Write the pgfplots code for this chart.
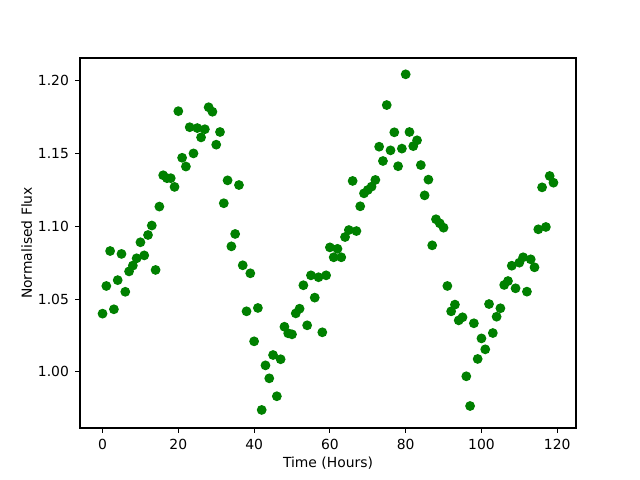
\documentclass[border=0pt]{standalone}
\usepackage{fontspec}
\setmainfont{DejaVu Sans}
\usepackage{pgfplots}
\pgfplotsset{compat=1.18}
\definecolor{mplgreen}{RGB}{0,128,0}
\begin{document}
\begin{tikzpicture}
\path[use as bounding box] (-57.6pt,-37.44pt) rectangle (403.2pt,308.16pt);
\begin{axis}[
  at={(0pt,0pt)}, anchor=south west,
  scale only axis, width=357.12pt, height=266.4pt,
  xmin=-5.95, xmax=124.95, ymin=0.9615, ymax=1.2155,
  xtick={0,20,40,60,80,100,120},
  ytick={1.00,1.05,1.10,1.15,1.20},
  /pgf/number format/assume math mode=true,
  yticklabel style={/pgf/number format/fixed, /pgf/number format/fixed zerofill, /pgf/number format/precision=2, xshift=-1pt},
  xticklabel style={yshift=-1pt},
  tick align=outside, major tick length=3.5pt,
  every tick/.style={black, line width=0.8pt},
  axis line style={line width=0.8pt},
  xtick pos=bottom, ytick pos=left,
  ticklabel style={font=\fontsize{10}{12}\selectfont},
  label style={font=\fontsize{10}{12}\selectfont},
  xlabel={Time (Hours)}, ylabel={Normalised Flux},
  xlabel style={at={(axis description cs:0.5,0)}, anchor=north, yshift=-17pt},
  ylabel style={at={(axis description cs:0,0.5)}, anchor=south, yshift=31pt},
]
\addplot[only marks, mark=*, mark size=3pt, mark options={fill=mplgreen, draw=mplgreen, line width=1pt, solid}] coordinates {
(0,1.040) (1,1.059) (2,1.083) (3,1.043) (4,1.063) (5,1.081) (6,1.055) (7,1.069) (8,1.073) (9,1.078)
(10,1.089) (11,1.080) (12,1.094) (13,1.1005) (14,1.070) (15,1.1135) (16,1.135) (17,1.133) (18,1.133) (19,1.127)
(20,1.179) (21,1.147) (22,1.141) (23,1.168) (24,1.150) (25,1.1674) (26,1.161) (27,1.1666) (28,1.1817) (29,1.1786)
(30,1.156) (31,1.1647) (32,1.1158) (33,1.1315) (34,1.0862) (35,1.0947) (36,1.1283) (37,1.0732) (38,1.0416) (39,1.0677)
(40,1.021) (41,1.0439) (42,0.9739) (43,1.0045) (44,0.9956) (45,1.0116) (46,0.9833) (47,1.0087) (48,1.031) (49,1.0265)
(50,1.0258) (51,1.0402) (52,1.0434) (53,1.0595) (54,1.032) (55,1.0663) (56,1.051) (57,1.065) (58,1.0272) (59,1.0663)
(60,1.0855) (61,1.0787) (62,1.0845) (63,1.0787) (64,1.0926) (65,1.0974) (66,1.1311) (67,1.0967) (68,1.1137) (69,1.1226)
(70,1.1249) (71,1.1272) (72,1.1318) (73,1.1546) (74,1.1448) (75,1.1832) (76,1.1521) (77,1.1645) (78,1.1412) (79,1.1533)
(80,1.2043) (81,1.1647) (82,1.155) (83,1.159) (84,1.142) (85,1.1212) (86,1.132) (87,1.0869) (88,1.1048) (89,1.102)
(90,1.099) (91,1.059) (92,1.0416) (93,1.0462) (94,1.0354) (95,1.0375) (96,0.997) (97,0.9766) (98,1.0334) (99,1.0089)
(100,1.023) (101,1.0155) (102,1.0466) (103,1.0267) (104,1.0379) (105,1.0437) (106,1.0597) (107,1.0624) (108,1.0729) (109,1.0574)
(110,1.075) (111,1.0787) (112,1.0551) (113,1.0773) (114,1.0718) (115,1.0979) (116,1.1267) (117,1.0995) (118,1.1345) (119,1.1299)
};
\end{axis}
\end{tikzpicture}
\end{document}
